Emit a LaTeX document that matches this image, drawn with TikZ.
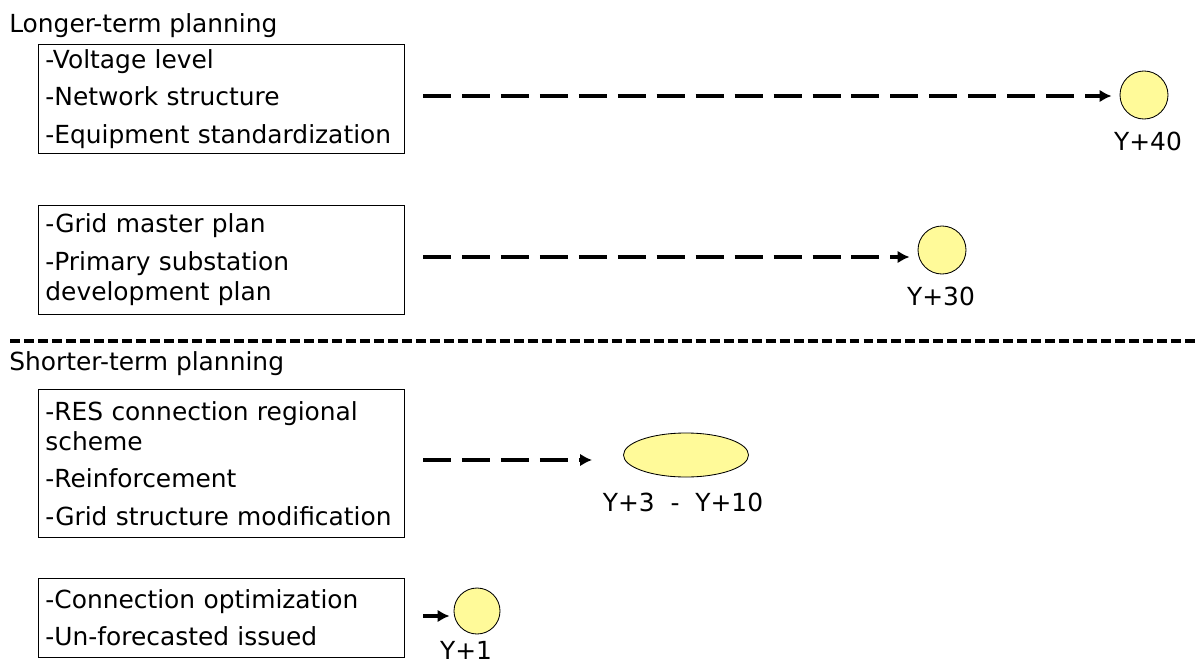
\documentclass[tikz,border=0pt]{standalone}
\usepackage{fontspec}
\setmainfont{DejaVu Sans}
\usetikzlibrary{shapes.geometric,arrows.meta}

\begin{document}
\begin{tikzpicture}[x=0.025cm, y=-0.025cm, every node/.style={font=\fontsize{17.7}{21.6}\selectfont},
    plan/.style={draw, line width=0.6pt, anchor=north west, align=left, text width=8.8cm, inner xsep=0.175cm, minimum width=9.15cm},
    year/.style={circle, draw, fill=yellow!40, line width=0.6pt, minimum size=1.2cm, inner sep=0pt},
    span/.style={ellipse, draw, fill=yellow!40, line width=0.6pt, minimum width=3.125cm, minimum height=1.1cm, inner sep=0pt},
    lead/.style={line width=2.85pt, dash pattern=on 19.9pt off 7.8pt, -{Latex[length=8.5pt, width=9pt]}}]
  \useasboundingbox (0,0) rectangle (1199,665);
  % horizons
  \node (long) [anchor=base west, inner sep=0pt] at (9, 32) {Longer-term planning};
  \node (short) [anchor=base west, inner sep=0pt] at (9, 370) {Shorter-term planning};
  \draw[line width=2.4pt, dash pattern=on 7.1pt off 2.85pt] (10, 341) -- (1199, 341);
  % planning boxes
  \node (b1) [plan, minimum height=2.725cm] at (38, 44) {-Voltage level\\[5pt]-Network structure\\[5pt]-Equipment standardization};
  \node (b2) [plan, minimum height=2.725cm] at (38, 205) {-Grid master plan\\[5pt]-Primary substation\\development plan};
  \node (b3) [plan, minimum height=3.7cm] at (38, 389) {-RES connection regional\\scheme\\[5pt]-Reinforcement\\[5pt]-Grid structure modification};
  \node (b4) [plan, minimum height=1.975cm] at (38, 578) {-Connection optimization\\[5pt]-Un-forecasted issued};
  % time horizons
  \node (y1) [year] at (1144, 95) {};
  \node (y2) [year] at (942, 250) {};
  \node (y3) [span] at (686, 455) {};
  \node (y4) [year, minimum size=1.15cm] at (477, 611) {};
  \node (t1) [anchor=base, inner sep=0pt] at (1148, 150) {Y+40};
  \node (t2) [anchor=base, inner sep=0pt] at (941, 305) {Y+30};
  \node (t3) [anchor=base, inner sep=0pt] at (683, 511) {Y+3\ \ -\ \ Y+10};
  \node (t4) [anchor=base, inner sep=0pt] at (466, 659) {Y+1};
  \coordinate (s1) at (423, 96);
  \coordinate (s2) at (423, 257);
  \coordinate (s3) at (423, 460);
  \coordinate (s4) at (423, 616);
  \draw[lead, shorten >=0.2cm] (s1) -- (s1 -| y1.west);
  \draw[lead, shorten >=0.2cm] (s2) -- (s2 -| y2.west);
  \draw[lead, shorten >=0.775cm] (s3) -- (s3 -| y3.west);
  \draw[lead, shorten >=0.1cm] (s4) -- (s4 -| y4.west);
\end{tikzpicture}
\end{document}
